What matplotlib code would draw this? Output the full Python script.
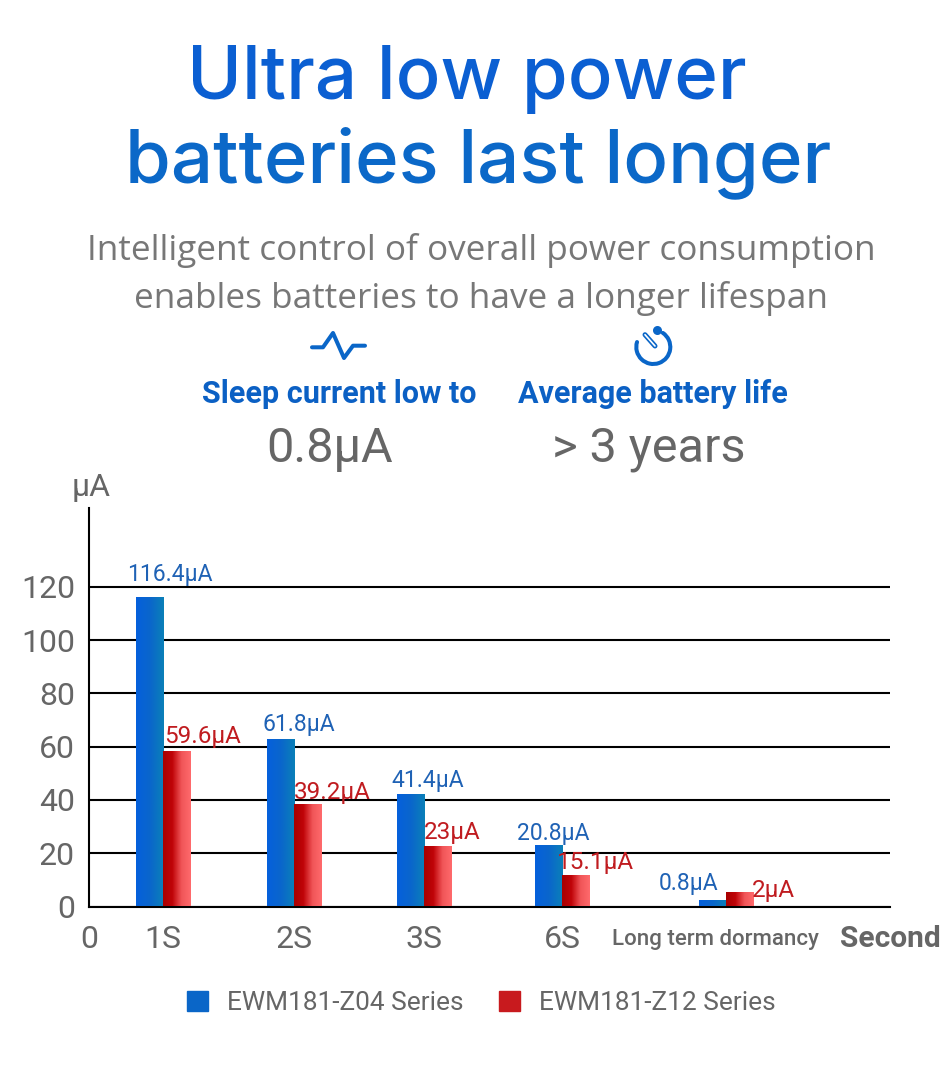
"""
Ultra low power chart: sleep current of two module series
"""
import numpy as np
import matplotlib
matplotlib.use('Agg')
import matplotlib.pyplot as plt
from matplotlib.colors import LinearSegmentedColormap
from matplotlib.patches import Arc, Patch

plt.rcParams['font.family'] = ['Roboto', 'DejaVu Sans']

categories = ['1S', '2S', '3S', '6S', 'Long term dormancy']
series_names = ['EWM181-Z04 Series', 'EWM181-Z12 Series']
z04_values = [115.8, 62.7, 41.9, 22.7, 2.2]
z12_values = [58, 38, 22.5, 11.5, 5]
z04_labels = ['116.4µA', '61.8µA', '41.4µA', '20.8µA', '0.8µA']
z12_labels = ['59.6µA', '39.2µA', '23µA', '15.1µA', '2µA']
y_ticks = [0, 20, 40, 60, 80, 100, 120]

W, H = 950, 1076
GREY = '#666666'
BLUE = '#0a66c8'
RED = '#c81a1e'
LABEL_BLUE = '#1f62b5'
LABEL_RED = '#c01c20'

# 类别中心位置 (相对坐标轴左端的像素)
x_pos = np.array([74, 205, 335, 473, 637])
bar_w = 27.5
# 标签相对柱顶中心的像素偏移
z04_dx = [21, 19, 17.5, 5, -23.5]
z04_dy = [23.5, 15.5, 14.5, 12.5, 17]
z12_dx = [25.5, 24.5, 14.5, 20, 34]
z12_dy = [16, 13, 14.5, 13, 3]

fig = plt.figure(figsize=(W / 100, H / 100), dpi=100)
ax = fig.add_axes([89 / W, 1 - 906.5 / H, 801 / W, 398.5 / H])

ax.set_yticks(y_ticks)
ax.tick_params(axis='y', length=0, pad=10, labelsize=23, labelcolor=GREY)
ax.set_xticks([])
ax.grid(axis='y', color='black', lw=1.5, zorder=1)
ax.set_axisbelow(True)
for side in ['top', 'right']:
    ax.spines[side].set_visible(False)
for side in ['left', 'bottom']:
    ax.spines[side].set_linewidth(1.5)

cmap_blue = LinearSegmentedColormap.from_list('b', ['#0560dc', '#0a66cc', '#0a80b8'])
cmap_red = LinearSegmentedColormap.from_list('r', ['#a80000', '#c00408', '#f05558', '#ff6a6c'])
grad = np.linspace(0, 1, 64).reshape(1, -1)


def gradient_bars(xs, values, cmap):
    """柱子用横向渐变填充"""
    bars = ax.bar(xs, values, width=bar_w, color='none', zorder=3)
    for b in bars:
        ax.imshow(grad, cmap=cmap, aspect='auto', zorder=3,
                  extent=[b.get_x(), b.get_x() + b.get_width(), 0, b.get_height()])
    return bars


gradient_bars(x_pos - bar_w / 2, z04_values, cmap_blue)
gradient_bars(x_pos + bar_w / 2, z12_values, cmap_red)
ax.set_xlim(0, 801)
ax.set_ylim(0, 398.5 / 2.663)

for x, v, s, dx, dy in zip(x_pos - bar_w / 2, z04_values, z04_labels, z04_dx, z04_dy):
    ax.annotate(s, (x, v), xytext=(dx * 0.72, dy * 0.72), textcoords='offset points',
                ha='center', va='center', fontsize=16.5, color=LABEL_BLUE, zorder=5)
for x, v, s, dx, dy in zip(x_pos + bar_w / 2, z12_values, z12_labels, z12_dx, z12_dy):
    ax.annotate(s, (x, v), xytext=(dx * 0.72, dy * 0.72), textcoords='offset points',
                ha='center', va='center', fontsize=17.5, color=LABEL_RED, zorder=5)

# 全图像素坐标的覆盖层
ov = fig.add_axes([0, 0, 1, 1], facecolor='none')
ov.set_xlim(0, W)
ov.set_ylim(H, 0)
ov.axis('off')

ov.text(467, 80, 'Ultra low power', ha='center', va='center', fontsize=53.5, color='#0b5fd2',
        family='Inter', fontweight='medium')
ov.text(478, 163, 'batteries last longer', ha='center', va='center', fontsize=53.5, color='#0b68c8',
        family='Inter', fontweight='medium')
ov.text(481, 250, 'Intelligent control of overall power consumption', ha='center', va='center',
        fontsize=25.3, color='#777777', family='Open Sans')
ov.text(481, 298, 'enables batteries to have a longer lifespan', ha='center', va='center',
        fontsize=25.3, color='#777777', family='Open Sans')
ov.text(339, 394, 'Sleep current low to', ha='center', va='center', fontsize=22, color='#0b60c4',
        fontweight='bold')
ov.text(653, 394, 'Average battery life', ha='center', va='center', fontsize=22, color='#0b60c4',
        fontweight='bold')
ov.text(330, 449, '0.8µA', ha='center', va='center', fontsize=35, color=GREY)
ov.text(649, 449, '> 3 years', ha='center', va='center', fontsize=35, color=GREY)
ov.text(91, 487, 'µA', ha='center', va='center', fontsize=23, color=GREY)
ov.text(89, 940, '0', ha='center', va='center', fontsize=23, color=GREY)

for x, c in zip(x_pos[:4] + 89, categories[:4]):
    ov.text(x, 940, c, ha='center', va='center', fontsize=23, color=GREY)
ov.text(715, 939, categories[4], ha='center', va='center', fontsize=16, color=GREY, fontweight='medium')
ov.text(890, 939, 'Second', ha='center', va='center', fontsize=21.5, color=GREY, fontweight='bold')

# 图标
ov.plot([312, 323, 333, 344, 353, 365], [347.3, 347.3, 333, 358, 345.7, 345.7], color=BLUE, lw=2.9,
        solid_joinstyle='round', solid_capstyle='round')
ov.add_patch(Arc((653.3, 347), 34, 34, theta1=-56, theta2=197, color=BLUE, lw=2.9, capstyle='round'))
ov.plot([645, 655], [334.7, 346], color=BLUE, lw=3.6, solid_capstyle='round')
ov.plot([645, 655], [334.7, 346], color='white', lw=1.2, solid_capstyle='round')
ov.plot([656.7], [330.3], 'o', ms=6.5, color=BLUE, mew=0)

ov.legend(handles=[Patch(color=BLUE, label=series_names[0]),
                   Patch(color=RED, label=series_names[1])],
          ncol=2, frameon=False, loc='center', bbox_to_anchor=(481 / W, 1 - 1003 / H),
          fontsize=18.9, labelcolor=GREY, handlelength=0.8, handleheight=0.8,
          handletextpad=0.72, columnspacing=1.35)

fig.savefig('out.png', dpi=100)
